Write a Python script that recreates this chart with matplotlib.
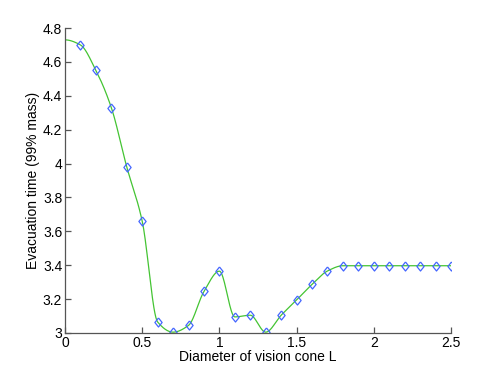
"""
Evacuation time vs. diameter of vision cone, MATLAB-style interpolated plot.
"""

import numpy as np
import matplotlib
matplotlib.use("Agg")
import matplotlib.pyplot as plt

# Data
diameter = [0.0, 0.1, 0.2, 0.3, 0.4, 0.5, 0.6, 0.7, 0.8, 0.9, 1.0,
            1.1, 1.2, 1.3, 1.4, 1.5, 1.6, 1.7, 1.8, 1.9, 2.0,
            2.1, 2.2, 2.3, 2.4, 2.5]
evac_time = [4.73, 4.70, 4.55, 4.33, 3.98, 3.66, 3.065, 3.005, 3.045, 3.245, 3.365,
             3.095, 3.105, 3.005, 3.105, 3.195, 3.287, 3.366, 3.397, 3.397, 3.397,
             3.397, 3.397, 3.397, 3.397, 3.397]
x_ticks = [0, 0.5, 1, 1.5, 2, 2.5]
x_tick_labels = ["0", "0.5", "1", "1.5", "2", "2.5"]
y_ticks = [3, 3.2, 3.4, 3.6, 3.8, 4, 4.2, 4.4, 4.6, 4.8]
y_tick_labels = ["3", "3.2", "3.4", "3.6", "3.8", "4", "4.2", "4.4", "4.6", "4.8"]


def pchip(x, y, xq):
    # shape-preserving piecewise cubic, same slopes as MATLAB's pchip()
    x = np.asarray(x, float)
    y = np.asarray(y, float)
    n = len(x)
    h = np.diff(x)
    delta = np.diff(y) / h
    d = np.zeros(n)
    for k in range(1, n - 1):
        if delta[k - 1] * delta[k] > 0:
            w1 = 2 * h[k] + h[k - 1]
            w2 = h[k] + 2 * h[k - 1]
            d[k] = (w1 + w2) / (w1 / delta[k - 1] + w2 / delta[k])

    def end_slope(h0, h1, del0, del1):
        s = ((2 * h0 + h1) * del0 - h0 * del1) / (h0 + h1)
        if np.sign(s) != np.sign(del0):
            s = 0.0
        elif np.sign(del0) != np.sign(del1) and abs(s) > abs(3 * del0):
            s = 3 * del0
        return s

    d[0] = end_slope(h[0], h[1], delta[0], delta[1])
    d[-1] = end_slope(h[-1], h[-2], delta[-1], delta[-2])
    idx = np.clip(np.searchsorted(x, xq) - 1, 0, n - 2)
    s = xq - x[idx]
    hh = h[idx]
    c2 = (3 * delta[idx] - 2 * d[idx] - d[idx + 1]) / hh
    c3 = (d[idx] - 2 * delta[idx] + d[idx + 1]) / hh ** 2
    return y[idx] + d[idx] * s + c2 * s ** 2 + c3 * s ** 3


plt.rcParams["font.family"] = ["Liberation Sans", "DejaVu Sans"]

fig = plt.figure(figsize=(4.98, 3.74), dpi=100)
ax = fig.add_axes([65 / 498, 41 / 374, 386 / 498, 305 / 374])

xs = np.linspace(diameter[0], diameter[-1], 800)
ax.plot(xs, pchip(diameter, evac_time, xs), color="#44c433", lw=0.9)

diamond = [(0, 1), (0.8, 0), (0, -1), (-0.8, 0), (0, 1)]
ax.plot(diameter[1:], evac_time[1:], linestyle="none", marker=diamond, markersize=6.5,
        markerfacecolor="none", markeredgecolor="#4466ff", markeredgewidth=0.9)

ax.set_xlim(0, 2.5)
ax.set_ylim(3, 4.8)
ax.set_xticks(x_ticks)
ax.set_xticklabels(x_tick_labels)
ax.set_yticks(y_ticks)
ax.set_yticklabels(y_tick_labels)

for side in ["top", "right"]:
    ax.spines[side].set_visible(False)
for side in ["left", "bottom"]:
    ax.spines[side].set_color("#555555")
    ax.spines[side].set_linewidth(0.9)
ax.tick_params(direction="in", length=4, width=0.9, color="#555555",
               labelsize=10, pad=2)

ax.set_xlabel("Diameter of vision cone L", fontsize=10, labelpad=0)
ax.set_ylabel("Evacuation time (99% mass)", fontsize=10, labelpad=2)

fig.savefig("out.png", dpi=100)
